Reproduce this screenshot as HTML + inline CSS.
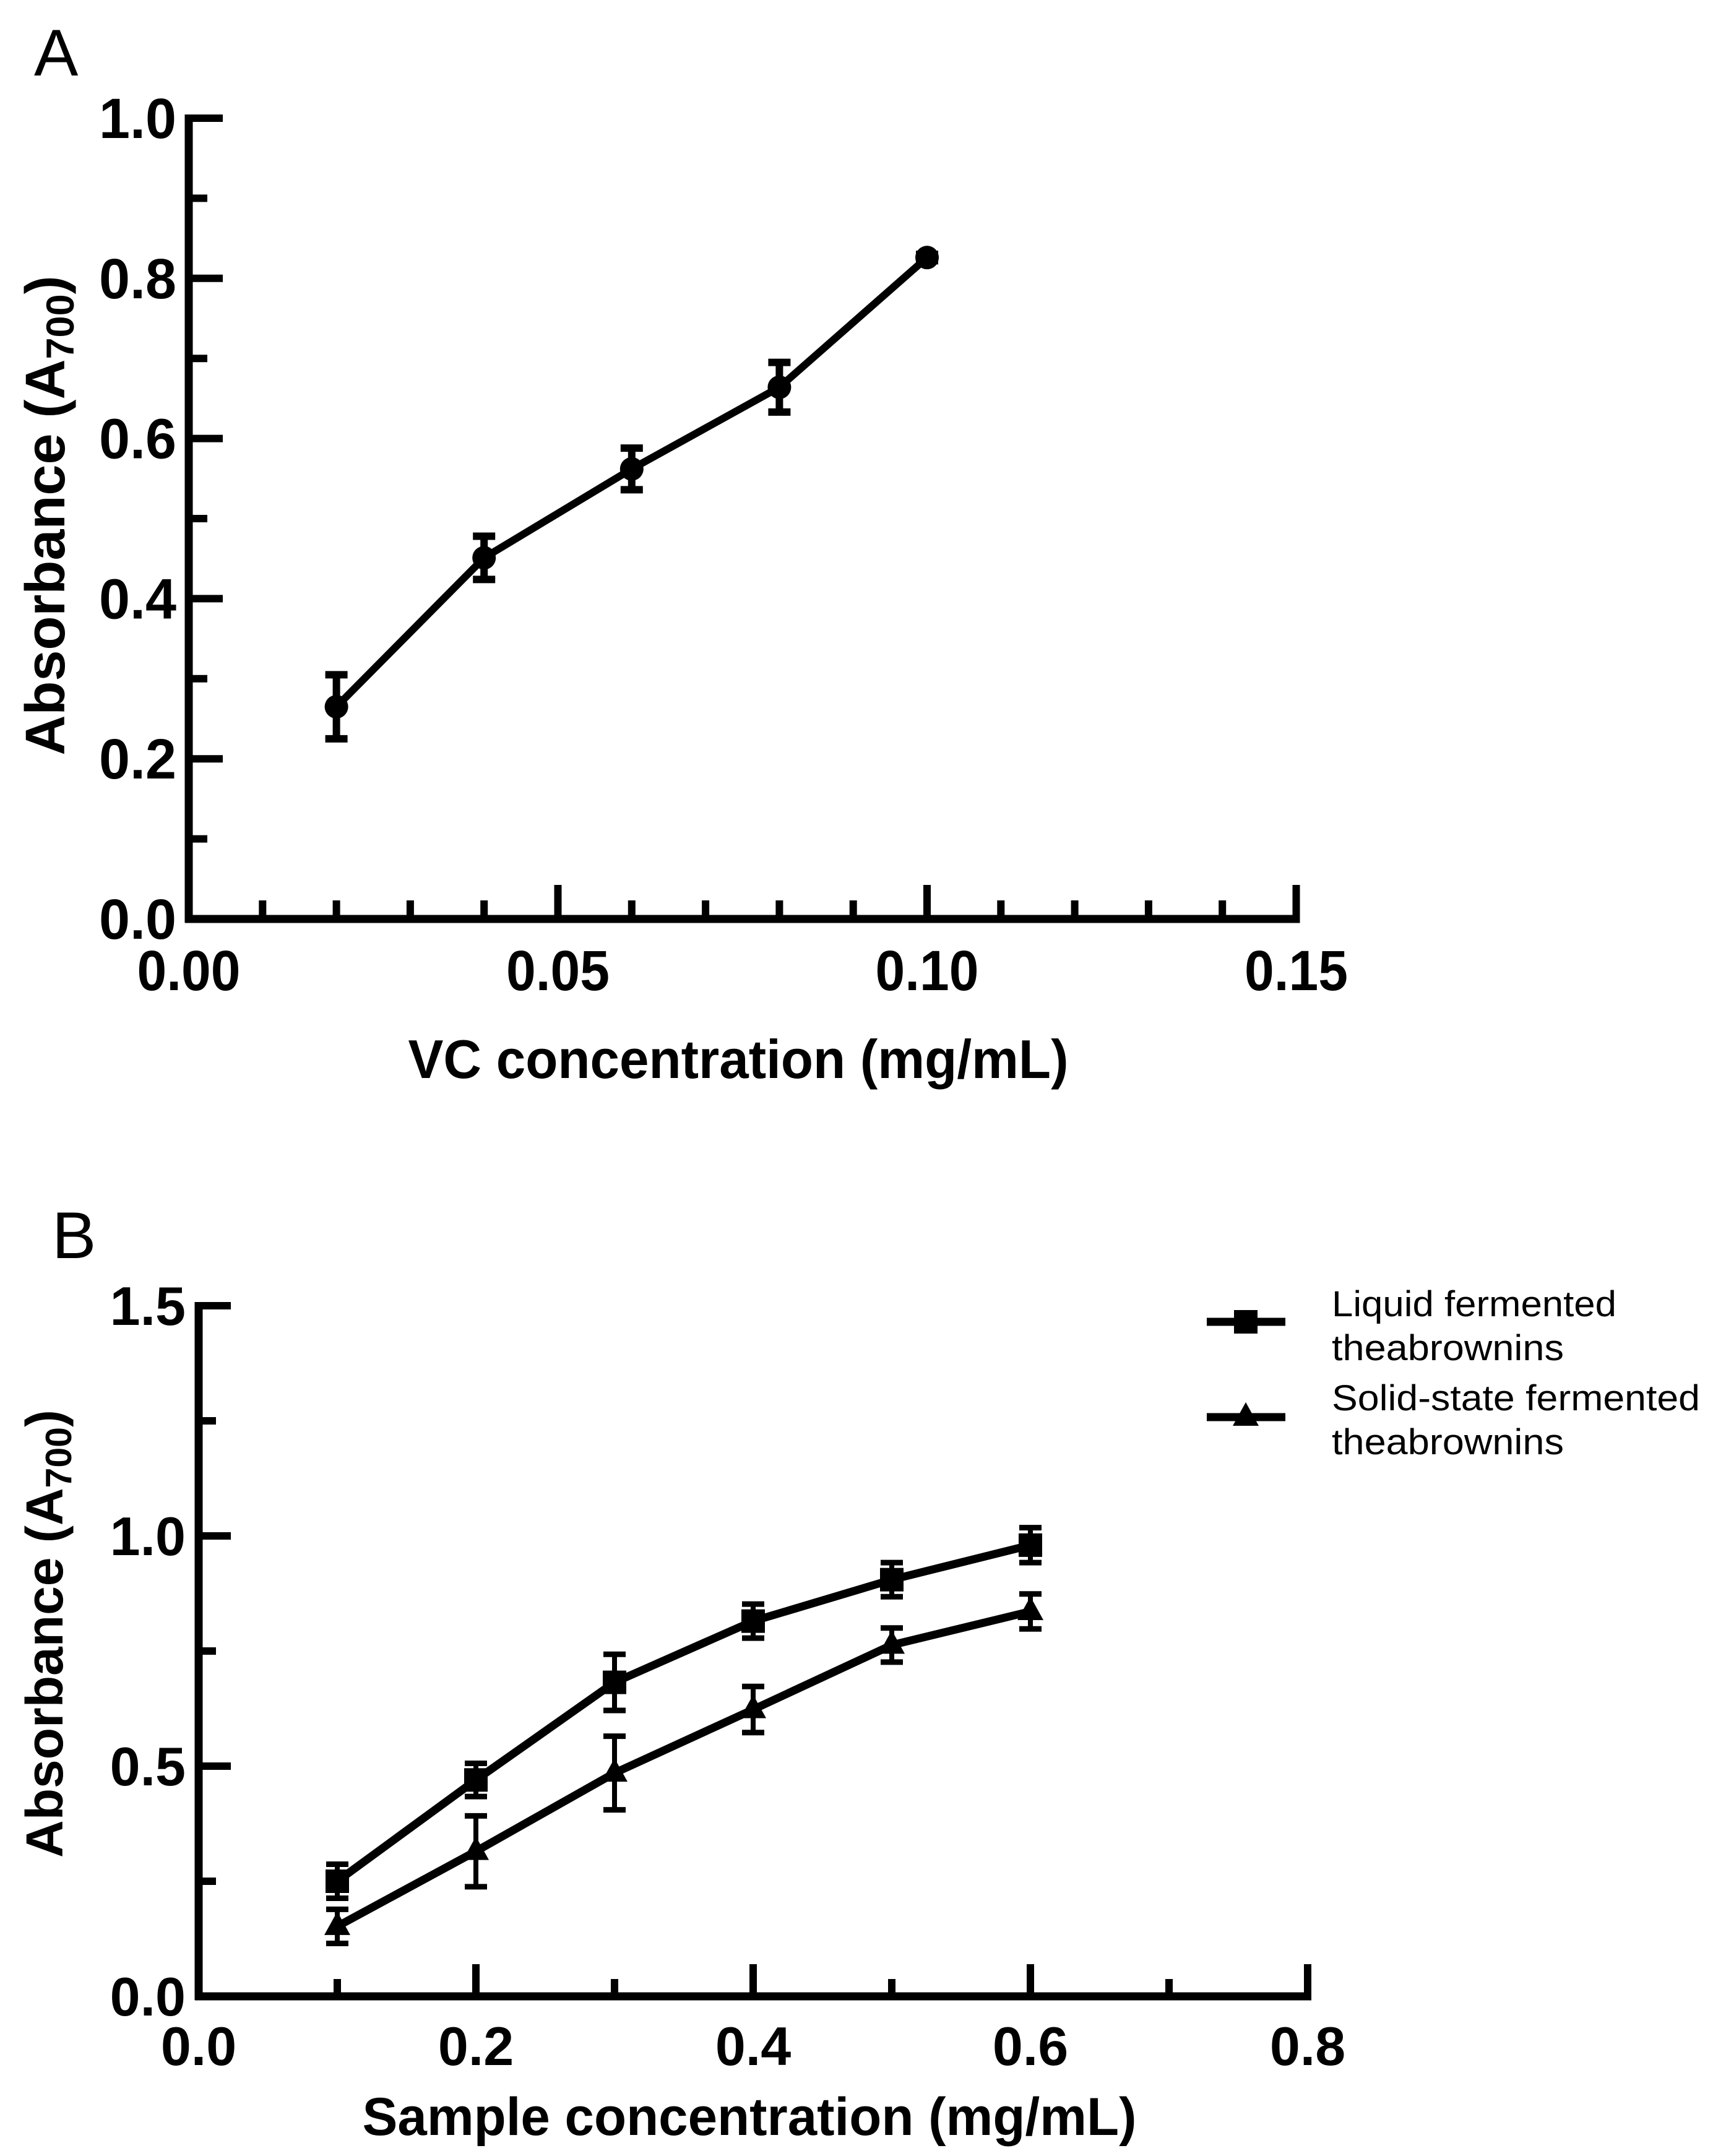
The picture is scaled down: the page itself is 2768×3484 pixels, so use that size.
<!DOCTYPE html>
<html><head><meta charset="utf-8"><style>
html,body{margin:0;padding:0;background:#fff}
svg{display:block}
text{font-family:"Liberation Sans",Arial,sans-serif;fill:#000}
</style></head><body>
<svg id="fig" width="2768" height="3484" viewBox="0 0 2768 3484" xmlns="http://www.w3.org/2000/svg">
<text x="55" y="122" font-size="107">A</text>
<text x="84" y="2033" font-size="107">B</text>
<g id="chartA"></g>
<g id="chartB"></g>
</svg>
<script>
// ---- Chart A data ----
const aX = [0.02, 0.04, 0.06, 0.08, 0.10];
const aY = [0.265, 0.451, 0.562, 0.664, 0.826];
const aErr = [0.040, 0.027, 0.026, 0.031, 0.004];
const aXTicks = ["0.00", "0.05", "0.10", "0.15"];
const aYTicks = ["0.0", "0.2", "0.4", "0.6", "0.8", "1.0"];
// ---- Chart B data ----
const bX = [0.1, 0.2, 0.3, 0.4, 0.5, 0.6];
const bLiquid = [0.250, 0.470, 0.682, 0.815, 0.905, 0.980];
const bLiquidErr = [0.037, 0.036, 0.061, 0.037, 0.037, 0.038];
const bSolid = [0.152, 0.315, 0.485, 0.623, 0.763, 0.836];
const bSolidErr = [0.037, 0.077, 0.080, 0.050, 0.037, 0.038];
const bXTicks = ["0.0", "0.2", "0.4", "0.6", "0.8"];
const bYTicks = ["0.0", "0.5", "1.0", "1.5"];
const legendLabels = [["Liquid fermented", "theabrownins"], ["Solid-state fermented", "theabrownins"]];

const NS = "http://www.w3.org/2000/svg";
function mk(parent, tag, attrs) {
  const e = document.createElementNS(NS, tag);
  for (const k in attrs) e.setAttribute(k, attrs[k]);
  parent.appendChild(e);
  return e;
}

// Chart A scales
const axA = v => 305 + v * 11930;
const ayA = v => 1485 - v * 1294;
const gA = document.getElementById('chartA');

let el = mk(gA, 'line', {x1: axA(0), y1: ayA(1.0) - 6, x2: axA(0), y2: ayA(0) + 6, stroke: '#000', 'stroke-width': 13});


el = mk(gA, 'line', {x1: axA(0) - 6, y1: ayA(0), x2: axA(0.15) + 6, y2: ayA(0), stroke: '#000', 'stroke-width': 13});


for (let i = 1; i <= 15; i++) {
  const v = i * 0.01, major = i % 5 === 0;
  el = mk(gA, 'line', {x1: axA(v), y1: ayA(0), x2: axA(v), y2: ayA(0) - (major ? 55 : 30), stroke: '#000', 'stroke-width': 12});
  
  
}
for (let i = 1; i <= 10; i++) {
  const v = i * 0.1, major = i % 2 === 0;
  el = mk(gA, 'line', {x1: axA(0), y1: ayA(v), x2: axA(0) + (major ? 55 : 30), y2: ayA(v), stroke: '#000', 'stroke-width': 12});
  
  
}
aXTicks.forEach((t, i) => {
  el = mk(gA, 'text', {x: axA(i * 0.05), y: 1600, 'font-size': 92, 'font-weight': 'bold', 'text-anchor': 'middle', textLength: 167, lengthAdjust: 'spacingAndGlyphs'});
  el.textContent = t;
  
  
});
aYTicks.forEach((t, i) => {
  el = mk(gA, 'text', {x: 285, y: ayA(i * 0.2) + 32, 'font-size': 92, 'font-weight': 'bold', 'text-anchor': 'end', textLength: 125, lengthAdjust: 'spacingAndGlyphs'});
  el.textContent = t;
  
  
});
el = mk(gA, 'text', {x: 1193, y: 1742, 'font-size': 88, 'font-weight': 'bold', 'text-anchor': 'middle', textLength: 1067, lengthAdjust: 'spacingAndGlyphs'});
el.textContent = 'VC concentration (mg/mL)';


el = mk(gA, 'text', {transform: 'translate(104,833) rotate(-90)', 'font-size': 90, 'font-weight': 'bold', 'text-anchor': 'middle'});
el.innerHTML = 'Absorbance (A<tspan font-size="63" dy="15">700</tspan><tspan dy="-15">)</tspan>';


el = mk(gA, 'polyline', {points: aX.map((x, i) => axA(x) + ',' + ayA(aY[i])).join(' '), fill: 'none', stroke: '#000', 'stroke-width': 12, 'stroke-linejoin': 'round'});


aX.forEach((x, i) => {
  const cx = axA(x), t = ayA(aY[i] + aErr[i]), b = ayA(aY[i] - aErr[i]);
  const g = mk(gA, 'g', {});
  
  
  mk(g, 'line', {x1: cx, y1: t, x2: cx, y2: b, stroke: '#000', 'stroke-width': 12});
  mk(g, 'line', {x1: cx - 18, y1: t, x2: cx + 18, y2: t, stroke: '#000', 'stroke-width': 12});
  mk(g, 'line', {x1: cx - 18, y1: b, x2: cx + 18, y2: b, stroke: '#000', 'stroke-width': 12});
  el = mk(gA, 'circle', {cx: cx, cy: ayA(aY[i]), r: 19, fill: '#000'});
  
  
});

// Chart B scales
const axB = v => 321 + v * 2240;
const ayB = v => 3226 - v * 744;
const gB = document.getElementById('chartB');
el = mk(gB, 'line', {x1: axB(0), y1: ayB(1.5) - 6, x2: axB(0), y2: ayB(0) + 6, stroke: '#000', 'stroke-width': 13});


el = mk(gB, 'line', {x1: axB(0) - 6, y1: ayB(0), x2: axB(0.8) + 6, y2: ayB(0), stroke: '#000', 'stroke-width': 13});


for (let i = 1; i <= 8; i++) {
  const v = i * 0.1, major = i % 2 === 0;
  el = mk(gB, 'line', {x1: axB(v), y1: ayB(0), x2: axB(v), y2: ayB(0) - (major ? 52 : 28), stroke: '#000', 'stroke-width': 12});
  
  
}
for (let i = 1; i <= 6; i++) {
  const v = i * 0.25, major = i % 2 === 0;
  el = mk(gB, 'line', {x1: axB(0), y1: ayB(v), x2: axB(0) + (major ? 52 : 28), y2: ayB(v), stroke: '#000', 'stroke-width': 12});
  
  
}
bXTicks.forEach((t, i) => {
  el = mk(gB, 'text', {x: axB(i * 0.2), y: 3337, 'font-size': 88, 'font-weight': 'bold', 'text-anchor': 'middle'});
  el.textContent = t;
  
  
});
bYTicks.forEach((t, i) => {
  el = mk(gB, 'text', {x: 300, y: ayB(i * 0.5) + 31, 'font-size': 88, 'font-weight': 'bold', 'text-anchor': 'end'});
  el.textContent = t;
  
  
});
el = mk(gB, 'text', {x: 1211, y: 3450, 'font-size': 86, 'font-weight': 'bold', 'text-anchor': 'middle', textLength: 1251, lengthAdjust: 'spacingAndGlyphs'});
el.textContent = 'Sample concentration (mg/mL)';


el = mk(gB, 'text', {transform: 'translate(101,2640) rotate(-90)', 'font-size': 84, 'font-weight': 'bold', 'text-anchor': 'middle'});
el.innerHTML = 'Absorbance (A<tspan font-size="59" dy="14">700</tspan><tspan dy="-14">)</tspan>';



function marker(g, type, cx, cy) {
  if (type === 'square') return mk(g, 'rect', {x: cx - 19, y: cy - 19, width: 38, height: 38, fill: '#000'});
  return mk(g, 'polygon', {points: (cx) + ',' + (cy - 24) + ' ' + (cx - 21) + ',' + (cy + 14) + ' ' + (cx + 21) + ',' + (cy + 14), fill: '#000'});
}
function seriesB(vals, errs, type, name) {
  el = mk(gB, 'polyline', {points: bX.map((x, i) => axB(x) + ',' + ayB(vals[i])).join(' '), fill: 'none', stroke: '#000', 'stroke-width': 13, 'stroke-linejoin': 'round'});
  
  
  bX.forEach((x, i) => {
    const cx = axB(x), t = ayB(vals[i] + errs[i]), b = ayB(vals[i] - errs[i]);
    const g = mk(gB, 'g', {});
    
    
    mk(g, 'line', {x1: cx, y1: t, x2: cx, y2: b, stroke: '#000', 'stroke-width': 8});
    mk(g, 'line', {x1: cx - 18, y1: t, x2: cx + 18, y2: t, stroke: '#000', 'stroke-width': 9});
    mk(g, 'line', {x1: cx - 18, y1: b, x2: cx + 18, y2: b, stroke: '#000', 'stroke-width': 9});
    el = marker(gB, type, cx, ayB(vals[i]));
    
    
  });
}
seriesB(bLiquid, bLiquidErr, 'square', 'liquid');
seriesB(bSolid, bSolidErr, 'triangle', 'solid');

const legY = [2136, 2290];
const legTypes = ['square', 'triangle'];
const legBase = [[2127, 2198], [2279, 2350]];
legendLabels.forEach((lines, k) => {
  const g = mk(gB, 'g', {});
  
  
  mk(g, 'line', {x1: 1950, y1: legY[k], x2: 2077, y2: legY[k], stroke: '#000', 'stroke-width': 13});
  marker(g, legTypes[k], 2013, legY[k]);
  lines.forEach((s, j) => {
    const tl = s.length > 18 ? 595 : (s.startsWith('Liquid') ? 460 : 375);
    const t = mk(g, 'text', {x: 2152, y: legBase[k][j], 'font-size': 58, textLength: tl, lengthAdjust: 'spacingAndGlyphs'});
    t.textContent = s;
  });
});
</script>
</body></html>
